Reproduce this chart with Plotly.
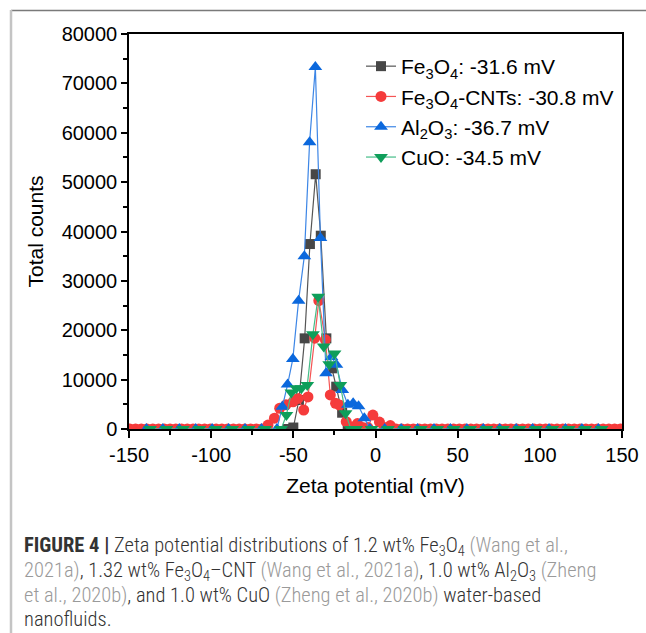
import plotly.graph_objects as go

# ---------------- data ----------------
# Fe3O4
fe_x = [-53.3, -50.0, -46.6, -43.1, -39.9, -36.4, -33.3, -29.9, -26.5, -23.9, -20.3, -16.9, -13.5]
fe_y = [0, 300, 5870, 18360, 37460, 51600, 39150, 18360, 12290, 8570, 3300, 0, 0]

# Fe3O4-CNTs
cnt_x = [-149.5, -146, -142.5, -139, -135.5, -132, -128.5, -125, -121.5, -118, -114.5, -111,
         -107.5, -104, -100.5, -97, -93.5, -90, -86.5, -83, -79.5, -76, -72.5, -69,
         -65.4, -61.5, -58.3, -54.5, -50.2, -47.2, -43.7, -41.1, -37.0, -34.5, -30.5, -27.5,
         -24.3, -21.9, -17.8, -14.5, -11.0, -7.8, -4.6, -1.6, 2.4, 5.5, 9.0,
         12.5, 16, 19.5, 23, 26.5, 30, 33.5, 37, 40.5, 44, 47.5, 51, 54.5, 58, 61.5, 65, 68.5,
         72, 75.5, 79, 82.5, 86, 89.5, 93, 96.5, 100, 103.5, 107, 110.5, 114, 117.5, 121,
         124.5, 128, 131.5, 135, 138.5, 142, 145.5, 149]
cnt_y = [0, 0, 0, 0, 0, 0, 0, 0, 0, 0, 0, 0,
         0, 0, 0, 0, 0, 0, 0, 0, 0, 0, 0, 0,
         800, 2200, 4200, 4900, 5500, 6200, 3850, 6500, 18400, 26000, 18100, 6900,
         5200, 4860, 1480, 400, 1100, 300, 300, 2830, 1400, 300, 700,
         0, 0, 0, 0, 0, 0, 0, 0, 0, 0, 0, 0, 0, 0, 0, 0, 0,
         0, 0, 0, 0, 0, 0, 0, 0, 0, 0, 0, 0, 0, 0, 0,
         0, 0, 0, 0, 0, 0, 0, 0]

# Al2O3
al_x = [-139.4, -129.4, -119.4, -109.4, -99.4, -89.4, -79.4, -69.4,
        -60.0, -56.7, -53.5, -50.3, -46.8, -43.3, -40.1, -36.6, -33.5, -30.1, -26.8, -23.8,
        -20.2, -16.8, -13.6, -10.3, -6.8, -3.4,
        5.6, 15.6, 25.6, 35.6, 45.6, 55.6, 65.6, 75.6, 85.6, 95.6, 105.6, 115.6, 125.6, 135.6]
al_y = [0, 0, 0, 0, 0, 0, 0, 0,
        0, 4500, 9000, 14200, 26000, 35000, 58100, 73300, 38700, 11300, 14600, 13000,
        7900, 4900, 5200, 4600, 2200, 0,
        0, 0, 0, 0, 0, 0, 0, 0, 0, 0, 0, 0, 0, 0]

# CuO
cuo_x = [-137.2, -127.2, -117.2, -107.2, -97.2, -87.2, -77.2, -67.2,
         -57.4, -54.2, -51.2, -48.2, -45.1, -41.5, -38.1, -34.9, -31.5, -28.2, -24.9, -21.4,
         -18.2, -15.0, -11.8,
         -2.4, 7.6, 17.6, 27.6, 37.6, 47.6, 57.6, 67.6, 77.6, 87.6, 97.6, 107.6, 117.6, 127.6, 137.6]
cuo_y = [0, 0, 0, 0, 0, 0, 0, 0,
         0, 2835, 7400, 8240, 8240, 8900, 19200, 26800, 16700, 13100, 15300, 8900,
         3170, 0, 0,
         0, 0, 0, 0, 0, 0, 0, 0, 0, 0, 0, 0, 0, 0, 0]

names = ["Fe<sub>3</sub>O<sub>4</sub>: -31.6 mV",
         "Fe<sub>3</sub>O<sub>4</sub>-CNTs: -30.8 mV",
         "Al<sub>2</sub>O<sub>3</sub>: -36.7 mV",
         "CuO: -34.5 mV"]

x_ticks = [-150, -100, -50, 0, 50, 100, 150]
y_ticks = [0, 10000, 20000, 30000, 40000, 50000, 60000, 70000, 80000]

# ---------------- figure ----------------
W, H = 646, 633
L, R, T, B = 129, 24, 34, 204
pw, ph = W - L - R, H - T - B

def px(xp):
    return (xp - L) / pw

def py(yp):
    return (H - B - yp) / ph

fig = go.Figure()
series = [
    (fe_x, fe_y, "square", 10, "#474747", "#555555"),
    (cnt_x, cnt_y, "circle", 11, "#F53B3B", "#F55555"),
    (al_x, al_y, "triangle-up", 12, "#0B68DD", "#3D86E6"),
    (cuo_x, cuo_y, "triangle-down", 12, "#0F9E5A", "#45BD88"),
]
for (xs, ys, sym, sz, mc, lc), nm in zip(series, names):
    fig.add_trace(go.Scatter(
        x=xs, y=ys, mode="lines+markers", name=nm,
        line=dict(color=lc, width=1.2),
        marker=dict(symbol=sym, size=sz, color=mc, line=dict(width=0)),
    ))

font = "Liberation Sans, Arial, Helvetica, sans-serif"
fig.update_layout(
    width=W, height=H,
    margin=dict(l=L, r=R, t=T, b=B, pad=0, autoexpand=False),
    paper_bgcolor="white", plot_bgcolor="white",
    font=dict(family=font, size=20, color="black"),
    showlegend=True,
    legend=dict(x=px(361), y=py(46), xanchor="left", yanchor="top",
                bgcolor="rgba(0,0,0,0)", font=dict(size=21), tracegroupgap=0,
                itemwidth=30),
    xaxis=dict(range=[-150, 150], tickvals=x_ticks, ticktext=[str(v) for v in x_ticks],
               ticks="outside", ticklen=7, tickwidth=1.5, tickcolor="black",
               minor=dict(dtick=25, tick0=-150, ticks="outside", ticklen=4, tickwidth=1.5, tickcolor="black"),
               showline=True, linecolor="black", linewidth=1.5, mirror=True,
               showgrid=False, zeroline=False, automargin=False,
               title=dict(text="Zeta potential (mV)", font=dict(size=21), standoff=14),
               tickfont=dict(size=20)),
    yaxis=dict(range=[0, 80000], tickvals=y_ticks, ticktext=[str(v) for v in y_ticks],
               ticks="outside", ticklen=6, tickwidth=1.5, tickcolor="black",
               minor=dict(dtick=5000, tick0=0, ticks="outside", ticklen=4, tickwidth=1.5, tickcolor="black"),
               showline=True, linecolor="black", linewidth=1.5, mirror=True,
               showgrid=False, zeroline=False, automargin=False,
               title=dict(text="Total counts", font=dict(size=21), standoff=12),
               tickfont=dict(size=20)),
)

# frame around the figure panel
fig.add_shape(type="line", xref="paper", yref="paper",
              x0=px(11), x1=px(646), y0=py(10.5), y1=py(10.5),
              line=dict(color="#7a7a7a", width=1.5))
fig.add_shape(type="line", xref="paper", yref="paper",
              x0=px(11), x1=px(11), y0=py(10), y1=py(633),
              line=dict(color="#c4c4c4", width=2.5))

# caption
G = "#9a9a9a"
D = "#333333"
def g(t):
    return f"<span style='color:{G}'>{t}</span>"

cap_lines = [
    "<b>FIGURE 4 |</b> Zeta potential distributions of 1.2 wt% Fe<sub>3</sub>O<sub>4</sub> " + g("(Wang et al.,"),
    g("2021a)") + ", 1.32 wt% Fe<sub>3</sub>O<sub>4</sub>–CNT " + g("(Wang et al., 2021a)") +
    ", 1.0 wt% Al<sub>2</sub>O<sub>3</sub> " + g("(Zheng"),
    g("et al., 2020b)") + ", and 1.0 wt% CuO " + g("(Zheng et al., 2020b)") + " water-based",
    "nanofluids.",
]
cap_y = [546, 571, 595, 619]
for t, yy in zip(cap_lines, cap_y):
    fig.add_annotation(text=t, xref="paper", yref="paper", x=px(22), y=py(yy),
                       xanchor="left", yanchor="middle", showarrow=False, align="left",
                       font=dict(family="Roboto Condensed, Liberation Sans Narrow, Arial Narrow, sans-serif",
                                 size=20.5, color=D, weight=300))

fig.write_html("out.html")
